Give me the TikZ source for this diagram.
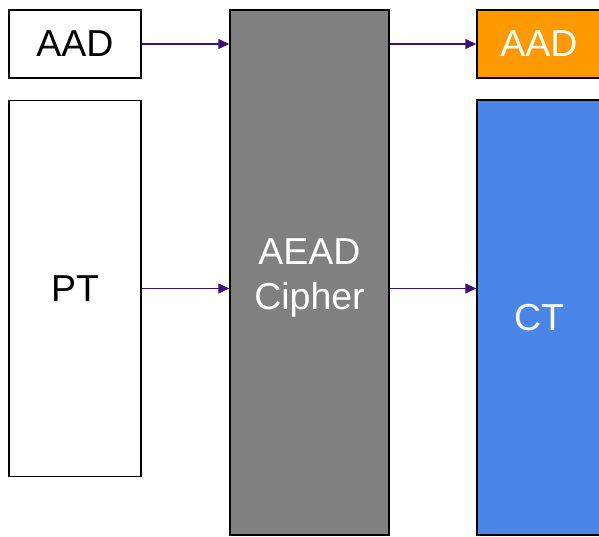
\documentclass[tikz,border=0pt]{standalone}
\usepackage{fontspec}
\setmainfont{Liberation Sans}
\usetikzlibrary{arrows.meta}
\definecolor{arrowpurple}{RGB}{60,18,118}
\definecolor{aadorange}{RGB}{255,153,0}
\definecolor{ctblue}{RGB}{74,134,232}
\definecolor{ciphergray}{RGB}{128,128,128}
\tikzset{
    box/.style = {draw=black, line width=1.5pt, inner sep=0pt,
                  font=\fontsize{37.5}{45}\selectfont, align=center},
    flow/.style = {-{Triangle[length=11pt,width=10pt]}, line width=1.5pt, draw=arrowpurple}
}
\begin{document}
\begin{tikzpicture}[x=1pt, y=-1pt]
        \useasboundingbox (0,0) rectangle (599,536);
        % inputs
        \node[box, fill=white, minimum width=132pt, minimum height=68pt] (aadin) at (75,44) {AAD};
        \node[box, fill=white, minimum width=132pt, minimum height=376pt] (pt) at (75,288.5) {PT};
        % cipher
        \node[box, fill=ciphergray, minimum width=159pt, minimum height=525pt,
              label={[font=\fontsize{37.5}{45}\selectfont, align=center, text=white, yshift=-5pt]center:AEAD\\Cipher}] (cipher) at (309.5,272.5) {};
        % outputs
        \node[box, fill=aadorange, text=white, minimum width=124pt, minimum height=68pt] (aadout) at (539,44) {AAD};
        \node[box, fill=ctblue, text=white, minimum width=124pt, minimum height=435pt] (ct) at (539,317.5) {CT};
        \draw[flow] (aadin.east) -- (cipher.west |- aadin.east);
        \draw[flow] (cipher.east |- aadout.west) -- (aadout.west);
        \draw[flow] (pt.east) -- (cipher.west |- pt.east);
        \draw[flow] (cipher.east |- pt.east) -- (ct.west |- pt.east);
\end{tikzpicture}
\end{document}
